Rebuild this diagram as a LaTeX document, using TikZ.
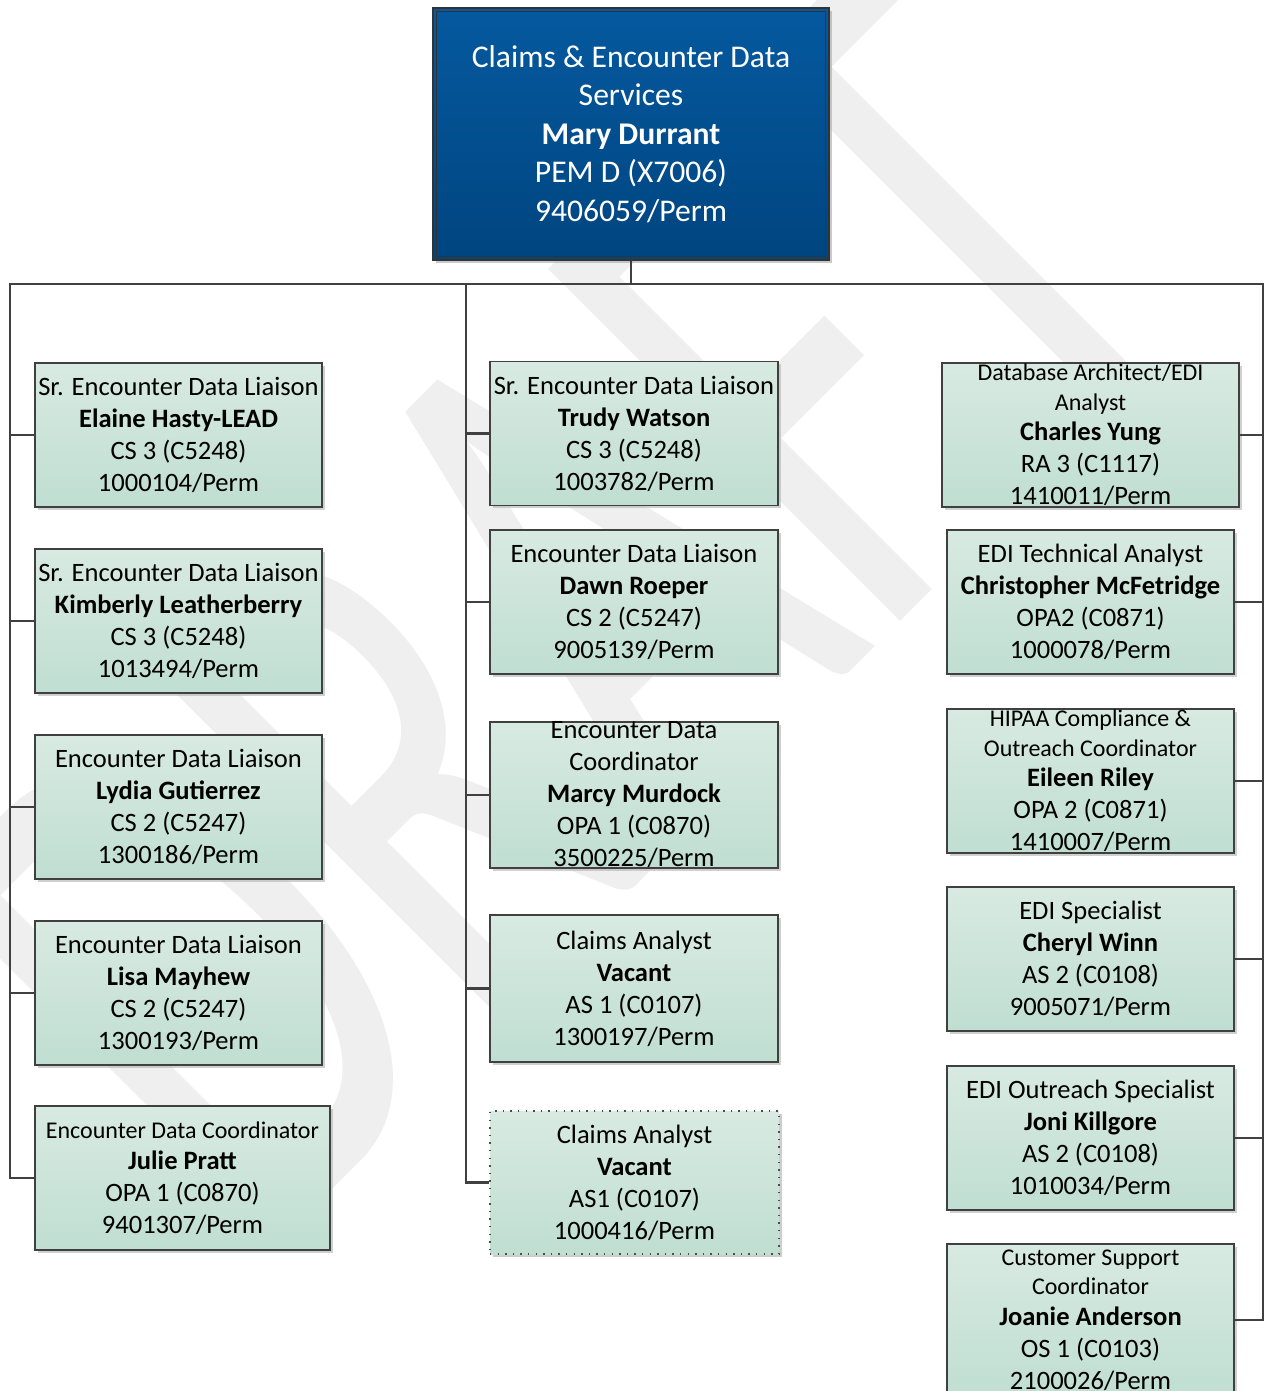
\documentclass[tikz,border=0pt]{standalone}
\usepackage{fontspec}
\setmainfont{Carlito}
\usetikzlibrary{shadows}
\definecolor{lin}{HTML}{404040}
\definecolor{gtop}{HTML}{D8EAE2}
\definecolor{gbot}{HTML}{C0DED2}
\definecolor{btop}{HTML}{05599F}
\definecolor{bbot}{HTML}{004580}
\definecolor{wmk}{HTML}{EFEFEF}
\newcommand\smf{\fontsize{18}{22}\selectfont}
\begin{document}
\begin{tikzpicture}[x=0.75pt, y=-0.75pt,
  conn/.style={draw=lin, line width=1.7pt, line join=miter},
  ebox/.style={draw=lin, line width=1.2pt, top color=gtop, bottom color=gbot,
    align=center, inner sep=0pt, text=black,
    font=\fontsize{19.9}{24}\selectfont,
    drop shadow={shadow xshift=2pt, shadow yshift=-2pt, fill=black!30, opacity=0.6}},
  vbox/.style={ebox, draw=black!70, line width=1.1pt, dash pattern=on 1.1pt off 4.6pt,
    drop shadow={shadow xshift=2pt, shadow yshift=-2pt, fill=black!20, opacity=0.5}},
  wL/.style={minimum width=215.25pt, minimum height=108pt},
  wM/.style={minimum width=216pt, minimum height=108pt},
  wR/.style={minimum width=215.25pt, minimum height=108pt},
  topbox/.style={draw=black!80, line width=2.2pt, top color=btop, bottom color=bbot,
    align=center, text=white, inner sep=0pt,
    font=\fontsize{23.7}{28.9}\selectfont,
    minimum width=297pt, minimum height=189pt,
    drop shadow={shadow xshift=2.5pt, shadow yshift=-2.5pt, fill=black!35, opacity=0.6}}
]
\useasboundingbox (0,0) rectangle (1267,1391);
\clip (0,0) rectangle (1267,1391);
\fill[white] (0,0) rectangle (1267,1391);

% watermark
\node[font=\fontsize{582}{600}\selectfont, text=wmk, rotate=45, xscale=0.65,
  transform shape, inner sep=0pt] (wm) at (560,610) {DRAFT};

% top box
\node[topbox] (top) at (631,134) {Claims \& Encounter Data\\Services\\\textbf{Mary Durrant}\\PEM D (X7006)\\9406059/Perm};
\draw[black!80, line width=0.8pt] ([shift={(4pt,-4pt)}]top.north west) rectangle ([shift={(-4pt,4pt)}]top.south east);

% left column
\node[ebox, wL] (L1) at (178.5,435) {Sr. Encounter Data Liaison\\\textbf{Elaine Hasty-LEAD}\\CS 3 (C5248)\\1000104/Perm};
\node[ebox, wL] (L2) at (178.5,621) {Sr. Encounter Data Liaison\\\textbf{Kimberly Leatherberry}\\CS 3 (C5248)\\1013494/Perm};
\node[ebox, wL] (L3) at (178.5,807) {Encounter Data Liaison\\\textbf{Lydia Gutierrez}\\CS 2 (C5247)\\1300186/Perm};
\node[ebox, wL] (L4) at (178.5,993) {Encounter Data Liaison\\\textbf{Lisa Mayhew}\\CS 2 (C5247)\\1300193/Perm};
\node[ebox, minimum width=221.25pt, minimum height=108pt] (L5) at (182.5,1178) {{\smf Encounter Data Coordinator}\\[-1pt]\textbf{Julie Pratt}\\OPA 1 (C0870)\\9401307/Perm};

% middle column
\node[ebox, wM] (M1) at (634,433.5) {Sr. Encounter Data Liaison\\\textbf{Trudy Watson}\\CS 3 (C5248)\\1003782/Perm};
\node[ebox, wM] (M2) at (634,602) {Encounter Data Liaison\\\textbf{Dawn Roeper}\\CS 2 (C5247)\\9005139/Perm};
\node[ebox, wM] (M3) at (634,795) {Encounter Data\\Coordinator\\\textbf{Marcy Murdock}\\OPA 1 (C0870)\\3500225/Perm};
\node[ebox, minimum width=216pt, minimum height=110.25pt] (M4) at (634,988.5) {Claims Analyst\\\textbf{Vacant}\\AS 1 (C0107)\\1300197/Perm};
\node[vbox, minimum width=216.75pt, minimum height=107.25pt] (M5) at (634.5,1182.5) {Claims Analyst\\\textbf{Vacant}\\AS1 (C0107)\\1000416/Perm};

% right column
\node[ebox, minimum width=222.75pt, minimum height=108pt] (R1) at (1090.5,435) {{\smf Database Architect/EDI}\\[-2pt]{\smf Analyst}\\[-1pt]\textbf{Charles Yung}\\RA 3 (C1117)\\1410011/Perm};
\node[ebox, wR] (R2) at (1090.5,602) {EDI Technical Analyst\\\textbf{Christopher McFetridge}\\OPA2 (C0871)\\1000078/Perm};
\node[ebox, wR] (R3) at (1090.5,781) {{\smf HIPAA Compliance \&}\\[-2pt]{\smf Outreach Coordinator}\\[-1pt]\textbf{Eileen Riley}\\OPA 2 (C0871)\\1410007/Perm};
\node[ebox, wR] (R4) at (1090.5,959) {EDI Specialist\\\textbf{Cheryl Winn}\\AS 2 (C0108)\\9005071/Perm};
\node[ebox, wR] (R5) at (1090.5,1138) {EDI Outreach Specialist\\\textbf{Joni Killgore}\\AS 2 (C0108)\\1010034/Perm};
\node[ebox, minimum width=215.25pt, minimum height=114pt] (R6) at (1090.5,1320) {{\smf Customer Support}\\[-2pt]{\smf Coordinator}\\[-1pt]\textbf{Joanie Anderson}\\OS 1 (C0103)\\2100026/Perm};

% connectors
\coordinate (bL) at (10,284);
\coordinate (bR) at (1263,284);
\coordinate (bM) at (466,284);
\draw[conn] (top.south) -- (top.south |- bL);
\draw[conn] (L5.west) -| (bL) -- (bR) |- (R6.east);
\draw[conn] (bM) |- (M5.west);
\foreach \n in {L1,L2,L3,L4} \draw[conn] (\n.west) -- (\n.west -| bL);
\foreach \n in {M1,M2,M3,M4} \draw[conn] (\n.west) -- (\n.west -| bM);
\foreach \n in {R1,R2,R3,R4,R5} \draw[conn] (\n.east) -- (\n.east -| bR);
\end{tikzpicture}
\end{document}
